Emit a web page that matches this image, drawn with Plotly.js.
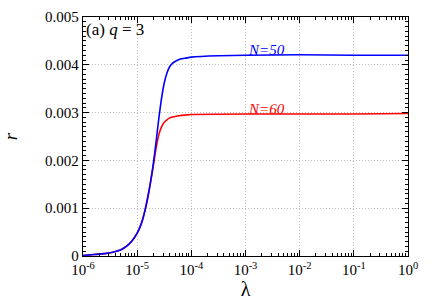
<!DOCTYPE html>
<html>
<head>
<meta charset="utf-8">
<script src="https://cdn.plot.ly/plotly-3.0.1.min.js"></script>
<style>html,body{margin:0;padding:0;background:#fff;}#chart{width:436px;height:305px;}
#chart svg text{font-family:'Liberation Serif' !important;}</style>
</head>
<body>
<div id="chart"></div>
<script>
// log10(lambda) sample points
const logLambdaN50 = [-6, -5.8, -5.6, -5.45, -5.3, -5.2, -5.1, -5.0, -4.95, -4.9, -4.85, -4.8, -4.75, -4.7, -4.65, -4.6, -4.55, -4.5, -4.45, -4.4, -4.35, -4.3, -4.2, -4.1, -4.0, -3.5, -3.0, -2.0, -1.0, 0];
const rN50 = [0.00001, 0.00003, 0.00005, 0.00008, 0.00013, 0.0002, 0.00031, 0.00048, 0.0006, 0.00076, 0.00098, 0.00125, 0.00157, 0.00195, 0.0024, 0.00288, 0.0033, 0.00362, 0.00383, 0.00396, 0.00403, 0.00407, 0.00412, 0.00414, 0.00416, 0.00419, 0.0042, 0.00421, 0.0042, 0.0042];
const logLambdaN60 = [-6, -5.8, -5.6, -5.45, -5.3, -5.2, -5.1, -5.0, -4.95, -4.9, -4.85, -4.8, -4.75, -4.7, -4.65, -4.6, -4.55, -4.5, -4.45, -4.4, -4.3, -4.2, -4.1, -4.0, -3.0, -2.0, -1.0, 0];
const rN60 = [0.00001, 0.00003, 0.00005, 0.00008, 0.00013, 0.0002, 0.00031, 0.00048, 0.0006, 0.00076, 0.00098, 0.00125, 0.00156, 0.0019, 0.00226, 0.00254, 0.0027, 0.0028, 0.00285, 0.00289, 0.00292, 0.00294, 0.00295, 0.00296, 0.00297, 0.00297, 0.00297, 0.00298];
const xTickExp = [-6, -5, -4, -3, -2, -1, 0];
const yTickVals = [0, 0.001, 0.002, 0.003, 0.004, 0.005];
const yTickText = ['0', '0.001', '0.002', '0.003', '0.004', '0.005'];

const toLambda = a => a.map(v => Math.pow(10, v));
const minorX = [];
for (let k = -6; k < 0; k++) for (let d = 2; d <= 9; d++) minorX.push(d * Math.pow(10, k));

const FAM = 'Liberation Serif';

const traces = [
  {x: toLambda(logLambdaN60), y: rN60, mode: 'lines', line: {color: '#ff0000', width: 1.6, shape: 'spline', smoothing: 0.5}, hoverinfo: 'none'},
  {x: toLambda(logLambdaN50), y: rN50, mode: 'lines', line: {color: '#0000ff', width: 1.6, shape: 'spline', smoothing: 0.5}, hoverinfo: 'none'},
  // transparent carrier so the minor-tick overlay axes are drawn
  {x: toLambda(logLambdaN50), y: rN50, xaxis: 'x2', yaxis: 'y2', mode: 'lines', line: {color: 'rgba(0,0,0,0)', width: 0}, hoverinfo: 'none'}
];

const layout = {
  width: 436, height: 305,
  margin: {l: 83, r: 28, t: 17, b: 49},
  showlegend: false,
  paper_bgcolor: '#fff', plot_bgcolor: '#fff',
  font: {family: FAM, size: 15, color: '#000'},
  xaxis: {
    type: 'log', range: [-6, 0],
    tickmode: 'array',
    tickvals: xTickExp.map(e => Math.pow(10, e)),
    ticktext: xTickExp.map(e => '10<sup>' + e + '</sup>'),
    ticks: 'inside', ticklen: 6, tickcolor: '#000', tickwidth: 1,
    showline: true, linecolor: '#000', linewidth: 1.2, mirror: 'ticks',
    showgrid: true, gridcolor: '#c0c0c0', griddash: '1px,2px', gridwidth: 1,
    zeroline: false,
    tickfont: {family: FAM, size: 15, color: '#000'},
    title: {text: 'λ', font: {family: FAM, size: 20, color: '#000'}, standoff: 4}
  },
  yaxis: {
    range: [0, 0.005],
    tickmode: 'array', tickvals: yTickVals, ticktext: yTickText,
    ticks: 'inside', ticklen: 6, tickcolor: '#000', tickwidth: 1,
    showline: true, linecolor: '#000', linewidth: 1.2, mirror: 'ticks',
    showgrid: true, gridcolor: '#c0c0c0', griddash: '1px,2px', gridwidth: 1,
    zeroline: false,
    tickfont: {family: FAM, size: 15, color: '#000'},
    title: {text: '<i>r</i>', font: {family: FAM, size: 19, color: '#000'}, standoff: 22}
  },
  xaxis2: {
    type: 'log', range: [-6, 0], overlaying: 'x', anchor: 'y2', side: 'bottom',
    tickmode: 'array', tickvals: minorX, ticks: 'inside', ticklen: 3, tickcolor: '#000', tickwidth: 1,
    showticklabels: false, showgrid: false, showline: false, zeroline: false, mirror: 'ticks'
  },
  yaxis2: {
    range: [0, 0.005], overlaying: 'y', anchor: 'x2', side: 'left',
    dtick: 0.0001, tick0: 0, ticks: 'inside', ticklen: 3, tickcolor: '#000', tickwidth: 1,
    showticklabels: false, showgrid: false, showline: false, zeroline: false, mirror: 'ticks'
  },
  annotations: [
    {xref: 'paper', yref: 'paper', x: 0.003, y: 0.995, xanchor: 'left', yanchor: 'top', showarrow: false,
     text: '(a) <i>q</i> = 3', font: {family: FAM, size: 17, color: '#000'}},
    {xref: 'x', yref: 'y', x: -3, y: 0.0042, xanchor: 'left', yanchor: 'bottom', showarrow: false, yshift: -5,
     text: '<i>N=50</i>', font: {family: FAM, size: 15, color: '#0000ff'}},
    {xref: 'x', yref: 'y', x: -3, y: 0.00297, xanchor: 'left', yanchor: 'bottom', showarrow: false, yshift: -5,
     text: '<i>N=60</i>', font: {family: FAM, size: 15, color: '#ff0000'}}
  ]
};

Plotly.newPlot('chart', traces, layout, {staticPlot: true});
</script>
</body>
</html>
